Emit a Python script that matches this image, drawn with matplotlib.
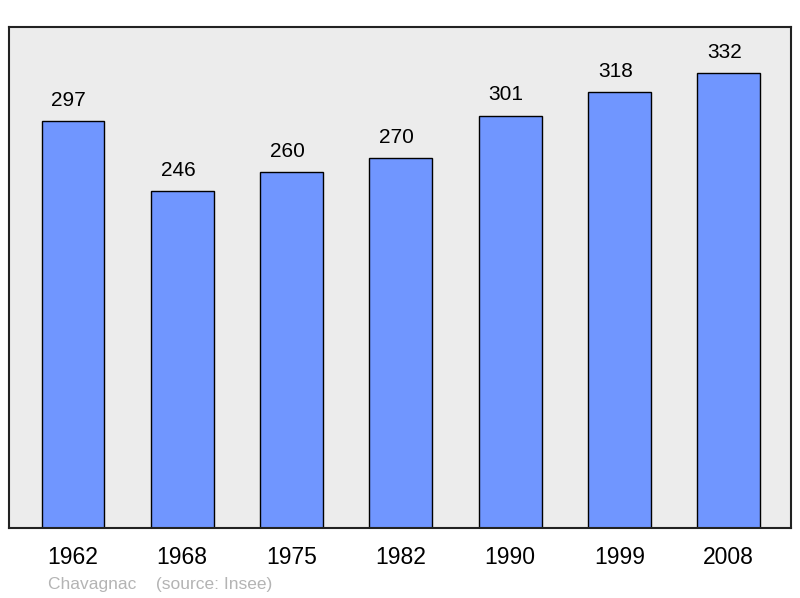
import matplotlib.pyplot as plt

# Population data
years = ["1962", "1968", "1975", "1982", "1990", "1999", "2008"]
population = [297, 246, 260, 270, 301, 318, 332]
commune = "Chavagnac"
source = "(source: Insee)"

plt.rcParams["font.family"] = ["Liberation Sans", "DejaVu Sans"]

fig = plt.figure(figsize=(8, 5.98), dpi=100)
ax = fig.add_axes([9 / 800, 70 / 598, 782 / 800, 501 / 598])
ax.set_facecolor("#ececec")

x = range(len(years))
bars = ax.bar(x, population, width=0.575, color="#7096ff",
              edgecolor="black", linewidth=1.0, zorder=2)

# value labels sit a little left of the bar centre in the original
for xi, val in zip(x, population):
    ax.annotate(str(val), (xi, val), xytext=(-3, 8), textcoords="offset points",
                ha="center", va="bottom", fontsize=15)

ax.set_xlim(-0.585, 6.57)
ax.set_ylim(0, 365.6)
ax.set_xticks(list(x))
ax.set_xticklabels(years, fontsize=16.5)
ax.tick_params(axis="x", length=0, pad=13)
ax.set_yticks([])
for spine in ax.spines.values():
    spine.set_linewidth(1.5)
    spine.set_color("#222222")

fig.text(48 / 800, 1 - 584 / 598, commune + "    " + source,
         fontsize=12.5, color="#b4b4b4", ha="left", va="center")

plt.savefig("out.png", dpi=100)
